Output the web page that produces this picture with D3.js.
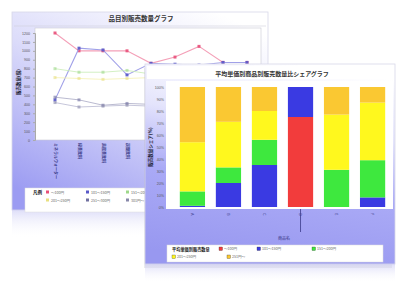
<!DOCTYPE html>
<html><head><meta charset="utf-8">
<script src="https://cdn.jsdelivr.net/npm/d3@7"></script>
<style>html,body{margin:0;padding:0;background:#fff;}svg{display:block;font-family:"Noto Sans CJK JP",sans-serif;}</style>
</head><body>
<svg id="c" width="403" height="283"></svg>
<script>
// ---------- data ----------
const lineCategories = ["ミネラルウォーター","緑茶飲料","烏龍茶飲料","炭酸飲料","果汁飲料","コーヒー","紅茶飲料","スポーツ","乳飲料"];
const lineSeriesNames = ["〜100円","101〜150円","151〜200円","201〜250円","251〜300円","301円〜"];
const lineValues = [
  [1200, 1000, 1000, 1000, 860, 930, 1050, 870, 870],
  [450, 1030, 1010, 730, 860, 850, 840, 870, 870],
  [800, 760, 760, 780, 740, 720, 700, 700, 690],
  [700, 690, 680, 690, 700, 690, 680, 670, 660],
  [480, 450, 390, 410, 400, 390, 380, 380, 370],
  [420, 370, 380, 390, 380, 370, 360, 360, 350]
];
const lineTicks = [0,100,200,300,400,500,600,700,800,900,1000,1100,1200];

const barCategories = ["A","B","C","D","E","F"];
const barSeriesNames = ["〜100円","101〜150円","151〜200円","201〜250円","251円〜"];
// percent shares, bottom to top: red, blue, green, yellow, orange
const barRed    = [0, 0, 0, 75, 0, 0];
const barBlue   = [1, 20, 35, 25, 0, 8];
const barGreen  = [12, 13, 21, 0, 31, 31];
const barYellow = [41, 38, 24, 0, 46, 48];
const barOrange = [46, 29, 20, 0, 23, 13];
const barTicks = [0,10,20,30,40,50,60,70,80,90,100];

// ---------- drawing ----------
const svg = d3.select("#c");
const defs = svg.append("defs");
function grad(id, x1,y1,x2,y2, stops){
  const g = defs.append("linearGradient").attr("id",id).attr("x1",x1).attr("y1",y1).attr("x2",x2).attr("y2",y2);
  stops.forEach(s=>g.append("stop").attr("offset",s[0]).attr("stop-color",s[1]).attr("stop-opacity",s[2]==null?1:s[2]));
}
grad("bgBack","0.8","0","0.2","1",[[0,"#ffffff"],[0.45,"#dcdcfa"],[1,"#9c9cf2"]]);
grad("bgFront","0.6","0","0.4","1",[[0,"#ffffff"],[0.3,"#e4e4fc"],[0.6,"#aaaaf6"],[1,"#9898f0"]]);
grad("refl","0","0","0","1",[[0,"#c8c8f4",0.6],[1,"#ffffff",0]]);

// ===== back panel (line chart) =====
const back = svg.append("g");
back.append("rect").attr("x",12).attr("y",12).attr("width",256).attr("height",198).attr("fill","url(#bgBack)").attr("stroke","#d8d8e8").attr("stroke-width",0.8);
back.append("rect").attr("x",12).attr("y",210).attr("width",256).attr("height",28).attr("fill","url(#refl)");
back.append("text").attr("x",141).attr("y",21).attr("text-anchor","middle").attr("font-size",6.5).attr("font-weight","bold").attr("fill","#333").text("品目別販売数量グラフ");
back.append("line").attr("x1",14).attr("x2",266).attr("y1",26).attr("y2",26).attr("stroke","#d0d0dc").attr("stroke-width",0.6);

const lx = d3.scalePoint().domain(lineCategories).range([55, 247]);
const ly = d3.scaleLinear().domain([0,1200]).range([140, 33]);
back.append("rect").attr("x",35).attr("y",28).attr("width",226).attr("height",112).attr("fill","#fff").attr("stroke","#c8c8d4").attr("stroke-width",0.6);
back.append("g").attr("transform","translate(35,0)")
  .call(d3.axisLeft(ly).tickValues(lineTicks).tickSize(2).tickFormat(d3.format("d")))
  .call(g=>{g.selectAll("text").attr("font-size",3.6).attr("fill","#555");g.select(".domain").attr("stroke","#aaa");g.selectAll(".tick line").attr("stroke","#aaa");});
back.append("text").attr("transform","translate(20,82) rotate(-90)").attr("text-anchor","middle").attr("font-size",4.5).attr("font-weight","bold").attr("fill","#223").text("販売数量(個)");

const lineColors = ["#f4a0b8","#a0a0e8","#c8ecb4","#f4f0b0","#a8a8c4","#b8b8d0"];
const markerColors = ["#e8507a","#5858c8","#9ed88a","#e8e080","#7070a0","#8888aa"];
const lineGen = d3.line().x((d,i)=>lx(lineCategories[i])).y(d=>ly(d));
lineValues.forEach((vals,k)=>{
  back.append("path").attr("d",lineGen(vals)).attr("fill","none").attr("stroke",lineColors[k]).attr("stroke-width",k<2?1.1:0.8);
  back.selectAll(null).data(vals).enter().append("rect")
    .attr("x",(d,i)=>lx(lineCategories[i])-1.5).attr("y",d=>ly(d)-1.5).attr("width",3).attr("height",3)
    .attr("fill",markerColors[k]).attr("opacity",k<2?0.9:0.6);
});
lineCategories.forEach(c=>{
  back.append("text").attr("transform",`translate(${lx(c)-1.5},143) rotate(90)`).attr("font-size",4).attr("fill","#3a3a88").attr("font-weight","bold").text(c);
});
// back legend
back.append("rect").attr("x",25).attr("y",188).attr("width",150).attr("height",24).attr("fill","#fff").attr("stroke","#ddd").attr("stroke-width",0.5);
back.append("text").attr("x",33).attr("y",194).attr("font-size",4.5).attr("font-weight","bold").attr("fill","#222").text("凡例");
lineSeriesNames.forEach((n,k)=>{
  const col = k%3, row = Math.floor(k/3);
  const x = 46 + col*40, y = 193 + row*8;
  back.append("rect").attr("x",x).attr("y",y-2.5).attr("width",3).attr("height",3).attr("fill",markerColors[k]);
  back.append("text").attr("x",x+5).attr("y",y+0.5).attr("font-size",3.6).attr("fill","#666").text(n);
});

// ===== front panel (stacked bar chart) =====
const front = svg.append("g");
front.append("rect").attr("x",147).attr("y",66).attr("width",248).attr("height",200).attr("fill","#000").attr("opacity",0.08).attr("transform","translate(-3,2)");
front.append("rect").attr("x",145).attr("y",64).attr("width",250).attr("height",200).attr("fill","url(#bgFront)").attr("stroke","#d8d8e8").attr("stroke-width",0.8);
front.append("rect").attr("x",145).attr("y",264).attr("width",250).attr("height",19).attr("fill","url(#refl)");
front.append("rect").attr("x",147).attr("y",66).attr("width",246).attr("height",13).attr("fill","#fff");
front.append("text").attr("x",272).attr("y",75.5).attr("text-anchor","middle").attr("font-size",6).attr("font-weight","bold").attr("fill","#333").text("平均単価別商品別販売数量比シェアグラフ");

const bx = d3.scaleBand().domain(barCategories).range([169, 396]).paddingInner(0.3).paddingOuter(0.3);
const by = d3.scaleLinear().domain([0,100]).range([207, 87]);
front.append("rect").attr("x",166).attr("y",81).attr("width",227).attr("height",128).attr("fill","#fff");
front.append("g").attr("transform","translate(166,0)")
  .call(d3.axisLeft(by).tickValues(barTicks).tickSize(0).tickPadding(2).tickFormat(d=>d+"%"))
  .call(g=>{g.selectAll("text").attr("font-size",3.6).attr("fill","#555");g.select(".domain").remove();});
front.append("text").attr("transform","translate(152,147) rotate(-90)").attr("text-anchor","middle").attr("font-size",4.5).attr("font-weight","bold").attr("fill","#223").text("販売数量シェア(%)");

const barColors = ["#f23c3c","#3a3ae2","#3ee83e","#fff81e","#fac832"];
const barRows = barCategories.map((c,i)=>({cat:c, s0:barRed[i], s1:barBlue[i], s2:barGreen[i], s3:barYellow[i], s4:barOrange[i]}));
const stack = d3.stack().keys(["s0","s1","s2","s3","s4"])(barRows);
stack.forEach((layer,k)=>{
  front.selectAll(null).data(layer).enter().append("rect")
    .attr("x",d=>bx(d.data.cat)).attr("width",bx.bandwidth())
    .attr("y",d=>by(d[1])).attr("height",d=>Math.max(0,by(d[0])-by(d[1])))
    .attr("fill",barColors[k]);
});
barCategories.forEach(c=>{
  front.append("text").attr("transform",`translate(${bx(c)+bx.bandwidth()/2-1.2},213) rotate(90)`).attr("font-size",4).attr("fill","#3a3a88").text(c);
});
front.append("line").attr("x1",bx("D")+bx.bandwidth()/2).attr("x2",bx("D")+bx.bandwidth()/2).attr("y1",209).attr("y2",232).attr("stroke","#3a3a88").attr("stroke-width",0.8);
front.append("text").attr("x",284).attr("y",240).attr("text-anchor","middle").attr("font-size",4).attr("fill","#3a3a88").text("商品名");

// front legend
front.append("rect").attr("x",167).attr("y",245).attr("width",216).attr("height",17).attr("fill","#fff").attr("stroke","#ddd").attr("stroke-width",0.5);
front.append("text").attr("x",172).attr("y",251).attr("font-size",4.2).attr("font-weight","bold").attr("fill","#222").text("平均単価別販売数量");
const legendPos = [[219,250],[257,250],[312,250],[172,258],[227,258]];
barSeriesNames.forEach((n,k)=>{
  const [x,y] = legendPos[k];
  front.append("rect").attr("x",x).attr("y",y-3).attr("width",3.5).attr("height",3.5).attr("fill",barColors[k]).attr("stroke","#333").attr("stroke-width",0.3);
  front.append("text").attr("x",x+5).attr("y",y).attr("font-size",3.6).attr("fill","#666").text(n);
});
</script>
</body></html>
